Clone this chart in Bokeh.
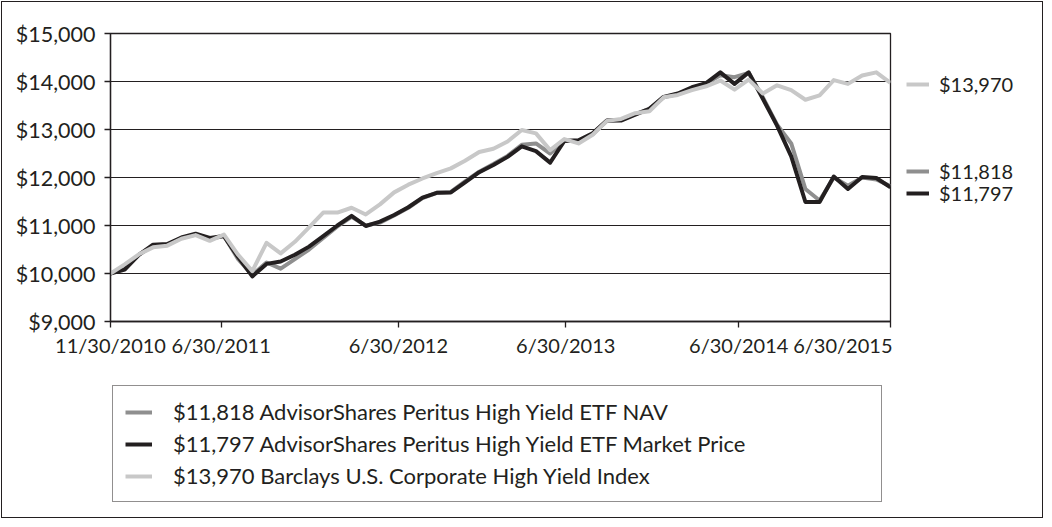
import math
from bokeh.plotting import figure
from bokeh.layouts import column, row
from bokeh.models import FixedTicker, NumeralTickFormatter, Legend, LegendItem, Range1d
from bokeh.embed import file_html
from bokeh.resources import INLINE

# ---- data (month index 0 = 11/30/2010 ... 55 = 6/30/2015) ----
months = list(range(56))

nav = [10000, 10110, 10390, 10580, 10600, 10740, 10810, 10720, 10780, 10300,
       9970, 10230, 10100, 10300, 10500, 10740, 10980, 11180, 11000, 11060,
       11210, 11370, 11570, 11680, 11700, 11920, 12120, 12280, 12450, 12680,
       12710, 12500, 12770, 12760, 12900, 13180, 13200, 13320, 13430, 13670,
       13740, 13860, 13960, 14130, 14090, 14180, 13670, 13100, 12710, 11760,
       11520, 12000, 11830, 12000, 11960, 11818]

market = [10000, 10080, 10390, 10600, 10615, 10750, 10830, 10740, 10780, 10340,
          9940, 10200, 10250, 10390, 10560, 10780, 11000, 11200, 10990, 11080,
          11220, 11380, 11580, 11680, 11690, 11900, 12110, 12260, 12430, 12650,
          12550, 12310, 12760, 12775, 12920, 13190, 13185, 13310, 13430, 13680,
          13750, 13880, 13965, 14190, 13950, 14190, 13640, 13080, 12440, 11490,
          11490, 12020, 11760, 12010, 11990, 11797]

index = [10000, 10190, 10400, 10545, 10580, 10725, 10800, 10680, 10810, 10390,
         10050, 10640, 10420, 10660, 10960, 11270, 11270, 11370, 11230, 11440,
         11690, 11850, 11980, 12090, 12190, 12350, 12530, 12600, 12750, 12990,
         12920, 12570, 12800, 12710, 12890, 13180, 13220, 13340, 13380, 13670,
         13720, 13820, 13900, 14020, 13830, 14040, 13750, 13920, 13820, 13620,
         13710, 14030, 13950, 14125, 14190, 13970]

x_tick_labels = ["11/30/2010", "6/30/2011", "6/30/2012", "6/30/2013", "6/30/2014", "6/30/2015"]
y_ticks = [9000, 10000, 11000, 12000, 13000, 14000, 15000]

series_names = ["$11,818 AdvisorShares Peritus High Yield ETF NAV",
                "$11,797 AdvisorShares Peritus High Yield ETF Market Price",
                "$13,970 Barclays U.S. Corporate High Yield Index"]
end_labels = ["$11,818", "$11,797", "$13,970"]

# ---- styling ----
INK = "#231f20"
C_NAV = "#8f8f8f"
C_MKT = "#231f20"
C_IDX = "#c8c8c8"
LW = 4
FONT = "Lato"
x_tick_pos = [0, 7.8, 20.3, 32.1, 44.3, 55]   # label placement as in the original
NAN2 = [math.nan, math.nan]                    # legend-only swatch renderers draw nothing

# ---------------- main chart ----------------
p = figure(width=892, height=360, output_backend="svg", toolbar_location=None,
           x_range=Range1d(0, 55), y_range=Range1d(9000, 15000),
           min_border_left=110, min_border_right=2, min_border_top=33, min_border_bottom=39,
           background_fill_color="white", border_fill_color=None)
p.outline_line_color = INK
p.outline_line_width = 1.3

r_nav = p.line(months, nav, line_color=C_NAV, line_width=LW, line_join="round")
r_mkt = p.line(months, market, line_color=C_MKT, line_width=LW, line_join="round")
r_idx = p.line(months, index, line_color=C_IDX, line_width=LW, line_join="round")

p.yaxis.ticker = FixedTicker(ticks=y_ticks)
p.yaxis.formatter = NumeralTickFormatter(format="$0,0")
p.xaxis.ticker = FixedTicker(ticks=x_tick_pos)
p.xaxis.major_label_overrides = {k: v for k, v in zip(x_tick_pos, x_tick_labels)}
for ax in (p.xaxis, p.yaxis):
    ax.axis_line_color = INK
    ax.axis_line_width = 1.3
    ax.major_tick_line_color = INK
    ax.major_tick_line_width = 1.3
    ax.major_tick_out = 6
    ax.major_tick_in = 0
    ax.minor_tick_line_color = None
    ax.major_label_text_font = FONT
    ax.major_label_text_color = INK
p.yaxis.major_label_text_font_size = "21.5px"
p.xaxis.major_label_text_font_size = "20px"
p.yaxis.major_label_standoff = 9
p.xaxis.major_label_standoff = 5
p.xgrid.visible = False
p.ygrid.grid_line_color = INK
p.ygrid.grid_line_width = 1.2

# ---------------- end-of-line value labels (right strip) ----------------
side = figure(width=152, height=360, output_backend="svg", toolbar_location=None,
              x_range=Range1d(0, 1), y_range=Range1d(9000, 15000),
              min_border_left=0, min_border_right=0, min_border_top=33, min_border_bottom=39,
              background_fill_color=None, border_fill_color=None)
side.axis.visible = False
side.grid.visible = False
side.outline_line_color = None
s_nav = side.line([0, 1], NAN2, line_color=C_NAV, line_width=LW)
s_mkt = side.line([0, 1], NAN2, line_color=C_MKT, line_width=LW)
s_idx = side.line([0, 1], NAN2, line_color=C_IDX, line_width=LW)

def end_legend(label, rend, yoff):
    return Legend(items=[LegendItem(label=label, renderers=[rend])],
                  location=(14, yoff), border_line_color=None,
                  background_fill_alpha=0, padding=0, spacing=0, margin=0,
                  glyph_width=23, glyph_height=22, label_height=22,
                  label_standoff=10, label_text_font=FONT, label_text_font_size="20px",
                  label_text_color=INK)

side.add_layout(end_legend(end_labels[2], s_idx, 225), "center")
side.add_layout(end_legend(end_labels[0], s_nav, 138), "center")
side.add_layout(end_legend(end_labels[1], s_mkt, 116), "center")

# ---------------- legend strip below ----------------
legfig = figure(width=1044, height=159, output_backend="svg", toolbar_location=None,
                x_range=Range1d(0, 1), y_range=Range1d(0, 1),
                min_border_left=0, min_border_right=0, min_border_top=0, min_border_bottom=0,
                background_fill_color=None, border_fill_color=None)
legfig.axis.visible = False
legfig.grid.visible = False
legfig.outline_line_color = None
l_nav = legfig.line([0, 1], NAN2, line_color=C_NAV, line_width=LW)
l_mkt = legfig.line([0, 1], NAN2, line_color=C_MKT, line_width=LW)
l_idx = legfig.line([0, 1], NAN2, line_color=C_IDX, line_width=LW)

main_leg = Legend(items=[LegendItem(label=series_names[0], renderers=[l_nav]),
                         LegendItem(label=series_names[1], renderers=[l_mkt]),
                         LegendItem(label=series_names[2], renderers=[l_idx])],
                  location=(112, 17), orientation="vertical",
                  border_line_color=INK, border_line_width=1.3,
                  background_fill_color="white", background_fill_alpha=1.0,
                  padding=12, spacing=5, margin=0,
                  glyph_width=27, glyph_height=24, label_height=24, label_width=696,
                  label_standoff=21, label_text_font=FONT, label_text_font_size="22px",
                  label_text_color=INK)
legfig.add_layout(main_leg, "center")

layout = column(row(p, side), legfig,
                styles={"outline": "1.3px solid #231f20", "outline-offset": "-2px",
                        "background-color": "white"})

open("out.html", "w").write(file_html(layout, INLINE))
